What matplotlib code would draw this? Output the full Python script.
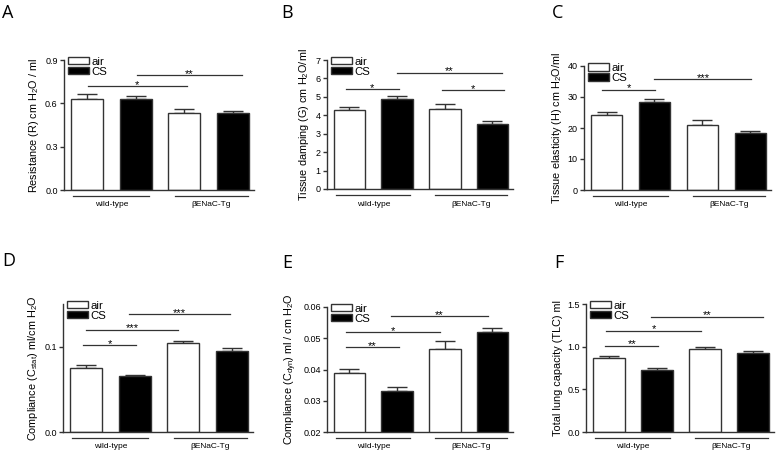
import matplotlib.pyplot as plt
import matplotlib.transforms as mtransforms
from matplotlib.patches import Patch

plt.rcParams['font.family'] = ['Liberation Sans', 'DejaVu Sans']
plt.rcParams['mathtext.default'] = 'regular'

# bar order: wild-type air, wild-type CS, bENaC-Tg air, bENaC-Tg CS
groups = ['wild-type', 'βENaC-Tg']
treatments = ['air', 'CS']

resistance = [0.632, 0.630, 0.535, 0.530]
resistance_err = [0.033, 0.020, 0.027, 0.020]
damping = [4.30, 4.88, 4.35, 3.55]
damping_err = [0.13, 0.15, 0.27, 0.16]
elasticity = [24.2, 28.3, 21.1, 18.3]
elasticity_err = [0.9, 1.1, 1.4, 0.8]
cstat = [0.0753, 0.0655, 0.1045, 0.0955]
cstat_err = [0.0027, 0.0015, 0.0025, 0.0025]
cdyn = [0.0390, 0.0332, 0.0465, 0.0521]
cdyn_err = [0.0013, 0.0012, 0.0025, 0.0011]
tlc = [0.867, 0.732, 0.975, 0.925]
tlc_err = [0.025, 0.022, 0.020, 0.025]

# significance brackets: (x start, x end, y, label)
sig_a = [(0.02, 2.05, 0.72, '*'), (1.03, 3.18, 0.796, '**')]
sig_b = [(-0.08, 1.03, 5.43, '*'), (1.0, 3.2, 6.3, '**'), (1.95, 3.24, 5.37, '*')]
sig_c = [(-0.1, 1.02, 32.3, '*'), (1.0, 3.02, 35.8, '***')]
sig_d = [(-0.05, 1.02, 0.102, '*'), (0.01, 1.9, 0.12, '***'), (0.88, 2.96, 0.138, '***')]
sig_e = [(-0.08, 1.05, 0.0472, '**'), (-0.08, 1.9, 0.052, '*'), (0.87, 2.9, 0.0571, '**')]
sig_f = [(-0.07, 1.03, 1.01, '**'), (-0.05, 1.92, 1.185, '*'), (0.88, 3.2, 1.35, '**')]

W, H = 784, 457
fig = plt.figure(figsize=(W / 100, H / 100), dpi=100)

line_col = '#333333'


def px_axes(l, t, r, b):
    return fig.add_axes([l / W, 1 - b / H, (r - l) / W, (b - t) / H])


def panel(box, letter, letter_xy, vals, errs, sigs, ylim, yticks, fmt, ylabel):
    ax = px_axes(*box)
    h_px = box[3] - box[1]
    x = [0, 1, 2, 3]
    colors = ['white', 'black', 'white', 'black']
    ax.errorbar(x, vals, yerr=[[0] * 4, errs], fmt='none', ecolor=line_col,
                elinewidth=1, capsize=7, capthick=1, zorder=1)
    ax.bar(x, vals, width=0.66, color=colors, edgecolor=line_col,
           linewidth=1, zorder=2)
    ax.set_xlim(-0.47, 3.43)
    ax.set_ylim(*ylim)
    ax.set_yticks(yticks)
    ax.set_yticklabels([fmt.format(v) for v in yticks], fontsize=6.5)
    ax.set_xticks([])
    for s in ['top', 'right']:
        ax.spines[s].set_visible(False)
    for s in ['left', 'bottom']:
        ax.spines[s].set_color(line_col)
        ax.spines[s].set_linewidth(1)
    ax.tick_params(axis='y', length=3, width=1, color=line_col, pad=1.5)
    ax.set_ylabel(ylabel, fontsize=7.8, labelpad=3)

    for x0, x1, y, lab in sigs:
        ax.plot([x0, x1], [y, y], color=line_col, lw=0.9, zorder=3)
        ax.annotate(lab, ((x0 + x1) / 2, y), xytext=(0, -1.2),
                    textcoords='offset points', ha='center', va='baseline',
                    fontsize=8)

    tr = mtransforms.blended_transform_factory(ax.transData, ax.transAxes)
    for (x0, x1), name in zip([(-0.28, 1.28), (1.8, 3.3)], groups):
        ax.plot([x0, x1], [-6 / h_px] * 2, color=line_col, lw=0.9,
                transform=tr, clip_on=False)
        ax.text((x0 + x1) / 2, -15 / h_px, name, transform=tr, ha='center',
                va='center', fontsize=6)

    handles = [Patch(facecolor='white', edgecolor=line_col, lw=1),
               Patch(facecolor='black', edgecolor=line_col, lw=1)]
    ax.legend(handles, treatments, loc='upper left', bbox_to_anchor=(0.02, 1.025),
              frameon=False, fontsize=8.2, handlelength=1.9, handleheight=0.6,
              handletextpad=0.15, labelspacing=0.0, borderpad=0, borderaxespad=0)

    fig.text(letter_xy[0] / W, 1 - letter_xy[1] / H, letter, fontsize=13,
             family='Open Sans', ha='left', va='baseline')
    return ax


panel((64, 60, 254, 190), 'A', (2, 18), resistance, resistance_err, sig_a,
      (0, 0.9), [0, 0.3, 0.6, 0.9], '{:.1f}', r'Resistance (R) cm H$_2$O / ml')
panel((327, 60, 513, 189), 'B', (281, 18), damping, damping_err, sig_b,
      (0, 7), list(range(8)), '{:.0f}', r'Tissue damping (G) cm H$_2$O/ml')
panel((584, 66, 771, 190), 'C', (552, 18), elasticity, elasticity_err, sig_c,
      (0, 40), [0, 10, 20, 30, 40], '{:.0f}', r'Tissue elasticity (H) cm H$_2$O/ml')
panel((63, 304, 253, 432), 'D', (2, 266), cstat, cstat_err, sig_d,
      (0, 0.15), [0, 0.1], '{:.1f}', r'Compliance (C$_{stat}$) ml/cm H$_2$O')
panel((327, 307, 513, 432), 'E', (282, 268), cdyn, cdyn_err, sig_e,
      (0.02, 0.06), [0.02, 0.03, 0.04, 0.05, 0.06], '{:.2f}',
      r'Compliance (C$_{dyn}$) ml / cm H$_2$O')
panel((586, 304, 774, 432), 'F', (554, 268), tlc, tlc_err, sig_f,
      (0, 1.5), [0, 0.5, 1.0, 1.5], '{:.1f}', r'Total lung capacity (TLC) ml')

fig.savefig('out.png', dpi=100)
